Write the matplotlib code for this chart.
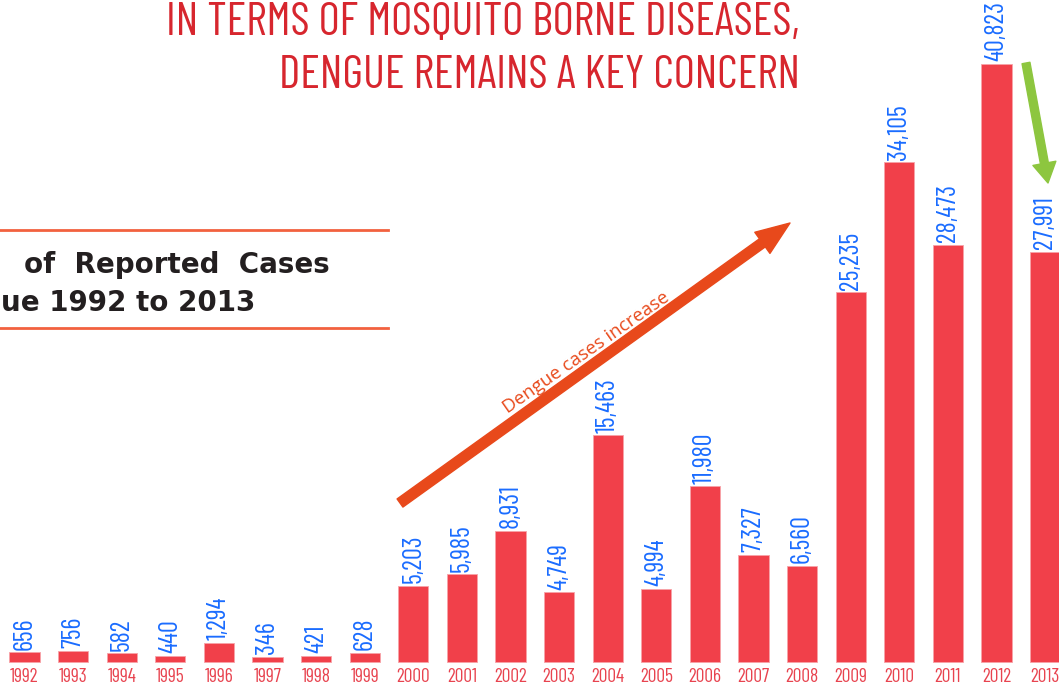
import matplotlib
matplotlib.use("Agg")
import matplotlib.pyplot as plt
from matplotlib.patches import FancyArrowPatch
from matplotlib.lines import Line2D

# data
years = [str(y) for y in range(1992, 2014)]
cases = [656, 756, 582, 440, 1294, 346, 421, 628, 5203, 5985, 8931, 4749,
         15463, 4994, 11980, 7327, 6560, 25235, 34105, 28473, 40823, 27991]
case_labels = [f"{c:,}" for c in cases]

title_lines = ["IN TERMS OF MOSQUITO BORNE DISEASES,", "DENGUE REMAINS A KEY CONCERN"]
box_lines = ["of  Reported  Cases", "ue 1992 to 2013"]
trend_text = "Dengue cases increase"

# colours
bar_red = "#f1404a"
label_blue = "#1a6cff"
year_red = "#e8434f"
title_red = "#d7262e"
rule_orange = "#f2613f"
arrow_orange = "#e8491b"
arrow_green = "#8dc63f"

narrow = ["Barlow Condensed", "Asap Condensed", "DejaVu Sans"]
humanist = ["Open Sans", "DejaVu Sans"]
heavy = ["DejaVu Sans"]

W, H = 1059, 686
fig = plt.figure(figsize=(W / 100, H / 100), dpi=100)
ax = fig.add_axes([0, 0, 1, 1])


def px(x, y):
    # figure pixel (top-left origin) -> figure fraction
    return x / W, 1 - y / H


x = list(range(len(years)))
ax.bar(x, cases, width=0.62, color=bar_red, edgecolor="#f7a3a8", linewidth=0.6)
ax.set_xlim(-0.504, 21.286)
ax.set_ylim(-1638, 45188)
ax.axis("off")

for xi, c, lab in zip(x, cases, case_labels):
    ax.annotate(lab, (xi, c), xytext=(0, 2), textcoords="offset points",
                rotation=90, ha="center", va="bottom", color=label_blue,
                fontsize=19, family=narrow, fontweight="normal")

for xi, yr in zip(x, years):
    ax.annotate(yr, (xi, 0), xytext=(0, -4), textcoords="offset points",
                ha="center", va="top", color=year_red, fontsize=14,
                family=narrow, fontweight="normal")

# headline
fig.text(*px(800, 35), title_lines[0], ha="right", va="baseline",
         color=title_red, fontsize=33, family=narrow, fontweight="normal")
fig.text(*px(800, 88), title_lines[1], ha="right", va="baseline",
         color=title_red, fontsize=33, family=narrow, fontweight="normal")

# boxed chart title (cropped on the left in the original)
for yy in (230, 328):
    x0, y0 = px(0, yy)
    x1, _ = px(388, yy)
    fig.add_artist(Line2D([x0, x1], [y0, y0], color=rule_orange, lw=2,
                          transform=fig.transFigure))
fig.text(*px(330, 273), box_lines[0], ha="right", va="baseline",
         fontsize=20, fontweight="bold", color="#231f20", family=heavy)
fig.text(*px(1, 311), box_lines[1], ha="left", va="baseline",
         fontsize=20, fontweight="bold", color="#231f20", family=heavy)

# trend arrows
orange = FancyArrowPatch(px(400, 503), px(790, 223), transform=fig.transFigure,
                         arrowstyle="simple,tail_width=0.5,head_width=1.3,head_length=1.7",
                         mutation_scale=14.4, color=arrow_orange, shrinkA=0, shrinkB=0)
fig.add_artist(orange)
fig.text(*px(586, 353), trend_text, rotation=35, rotation_mode="anchor",
         ha="center", va="center", color=arrow_orange, fontsize=13.5, family=humanist)

green = FancyArrowPatch(px(1026, 63), px(1048, 183), transform=fig.transFigure,
                        arrowstyle="simple,tail_width=0.48,head_width=1.4,head_length=1.2",
                        mutation_scale=12, color=arrow_green, shrinkA=0, shrinkB=0)
fig.add_artist(green)

fig.savefig("out.png", dpi=100)
